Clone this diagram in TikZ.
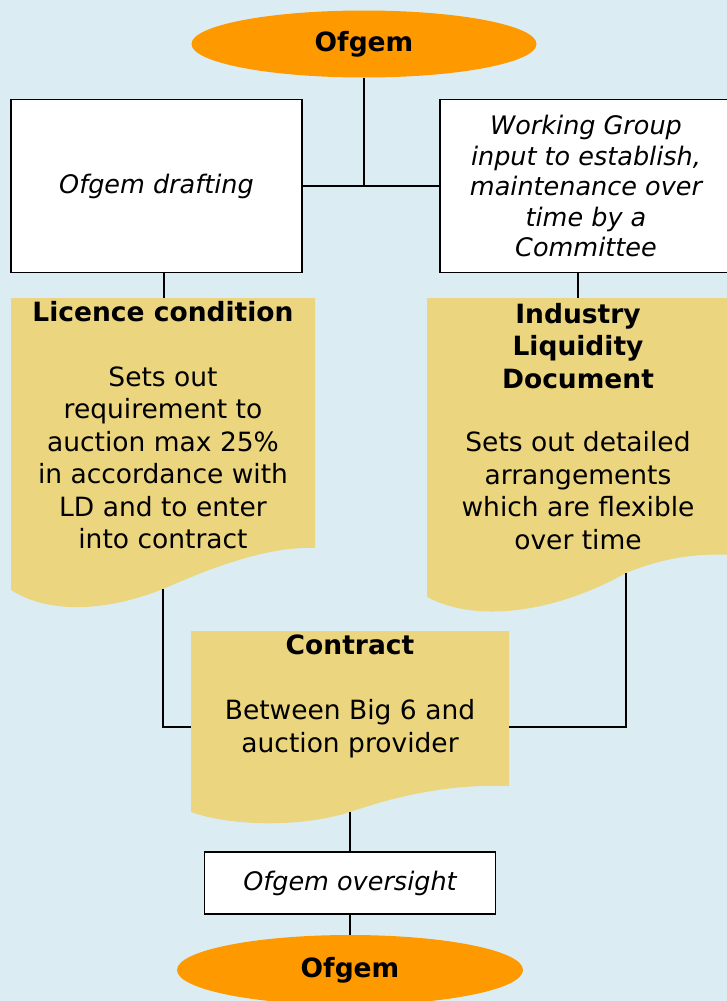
\documentclass[tikz,border=0pt]{standalone}
\usepackage{fontspec}
\setmainfont{DejaVu Sans}
\usepackage{xcolor}
\usepackage{tikz}
\usetikzlibrary{calc,shapes.geometric}
\definecolor{skyBack}{HTML}{DBEDF3}
\definecolor{ofgemOrange}{HTML}{FF9900}
\definecolor{docSand}{HTML}{EBD57E}
\tikzset{
  regbody/.style={ellipse, fill=ofgemOrange, draw=none, inner sep=0pt, font=\fontsize{26.5}{30}\selectfont\bfseries},
  notebox/.style={rectangle, draw=black, fill=white, line width=1.8pt, align=center, inner sep=0pt, font=\fontsize{25.5}{30.5}\selectfont\itshape},
  docfill/.style={fill=docSand, draw=none},
  doctext/.style={align=center, inner sep=0pt, anchor=north, font=\fontsize{26.5}{32.5}\selectfont},
  link/.style={draw=black, line width=1.8pt},
}

\begin{document}
\begin{tikzpicture}[x=1pt,y=-1pt]
  \useasboundingbox (0,0) rectangle (727,1001);
  \clip (0,0) rectangle (727,1001);
  \fill[skyBack] (0,0) rectangle (727,1001);

  % Top: regulator and the two drafting routes
  \node[regbody, minimum width=345pt, minimum height=67pt] (ofgem_top) at (364,44) {Ofgem};
  \node[notebox, minimum width=291pt, minimum height=173pt] (draft) at (156.5,186) {Ofgem drafting};
  \node[notebox, minimum width=292pt, minimum height=173pt] (wg) at (586,186) {Working Group\\ input to establish,\\ maintenance over\\ time by a\\ Committee};

  % Document shapes (wavy bottom)
  \fill[docfill] (11,298) -- (315,298) -- (315,548) .. controls (270,546) and (215,566) .. (163,589)
    .. controls (100,614) and (45,612) .. (11,590) -- cycle;
  \fill[docfill] (427,298) -- (732,298) -- (732,555) .. controls (700,553) and (665,557) .. (626,573)
    .. controls (560,610) and (480,625) .. (427,597) -- cycle;
  \fill[docfill] (191,631) -- (509,631) -- (509,786) .. controls (450,784) and (400,795) .. (350,812)
    .. controls (300,828) and (230,826) .. (191,812) -- cycle;
  \coordinate (lic_in) at (164,298);
  \coordinate (lic_out) at (163,589);
  \coordinate (ild_in) at (578,298);
  \coordinate (ild_out) at (626,573);
  \coordinate (con_w) at (191,727);
  \coordinate (con_e) at (509,727);
  \coordinate (con_out) at (350,812);

  \node[doctext] (lic) at (163,301) {\textbf{Licence condition}\\[32.5pt] Sets out\\ requirement to\\ auction max 25\%\\ in accordance with\\ LD and to enter\\ into contract};
  \node[doctext] (ild) at (578,303) {\textbf{Industry}\\ \textbf{Liquidity}\\ \textbf{Document}\\[31pt] Sets out detailed\\ arrangements\\ which are flexible\\ over time};
  \node[doctext] (contract) at (350,635) {\textbf{Contract}\\[32.5pt] Between Big 6 and\\ auction provider};

  % Bottom: oversight
  \node[notebox, minimum width=291pt, minimum height=62pt] (oversight) at (350,883) {Ofgem oversight};
  \node[regbody, minimum width=346pt, minimum height=70pt] (ofgem_bot) at (350,970) {Ofgem};

  % Connections
  \draw[link] (draft.east) -- (wg.west);
  \draw[link] (ofgem_top.south) -- (ofgem_top.south |- draft.east);
  \draw[link] (draft.south -| lic_in) -- (lic_in);
  \draw[link] (wg.south -| ild_in) -- (ild_in);
  \draw[link] (lic_out) |- (con_w);
  \draw[link] (ild_out) |- (con_e);
  \draw[link] (con_out) -- (oversight.north);
  \draw[link] (oversight.south) -- (ofgem_bot.north);
\end{tikzpicture}
\end{document}
